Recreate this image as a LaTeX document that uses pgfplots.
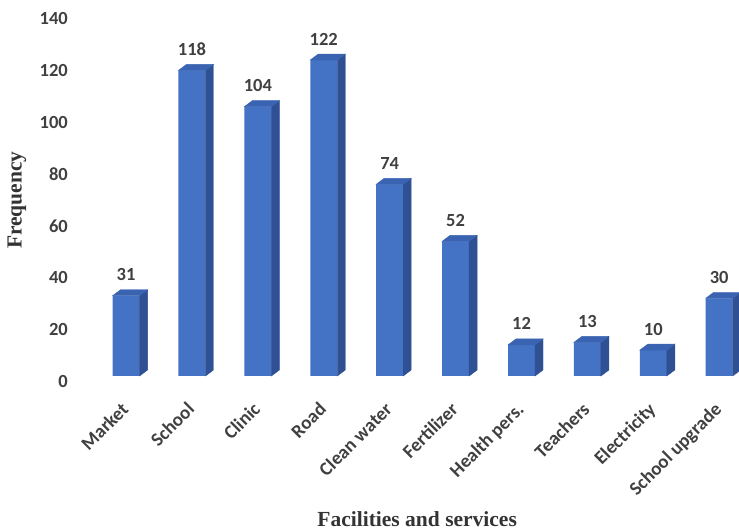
\documentclass[border=0pt]{standalone}
\usepackage{pgfplots}
\pgfplotsset{compat=1.18}
\usepackage{pgfplotstable}
\usepackage{fontspec}
\setmainfont{Carlito}
\newfontfamily\titlefont{Liberation Serif}
\definecolor{barfront}{HTML}{4472C4}
\definecolor{barside}{HTML}{2F5093}
\definecolor{bartop}{HTML}{3A64B2}
\definecolor{txt}{HTML}{404040}
\definecolor{ttl}{HTML}{333333}
\newcommand\numfont{\fontsize{18.5bp}{21bp}\selectfont\bfseries}
\newcommand\lblfont{\fontsize{19bp}{22bp}\selectfont\bfseries}
\newcommand\ttlfont{\titlefont\fontsize{21.5bp}{24bp}\selectfont\bfseries}

\pgfplotstableread{
x v
0 31
1 118
2 104
3 122
4 74
5 52
6 12
7 13
8 10
9 30
}\datatable

\begin{document}
\begin{tikzpicture}
\useasboundingbox (0,0) rectangle (739bp,531bp);
\begin{axis}[
  at={(74bp,155bp)}, anchor=south west,
  scale only axis, width=665bp, height=362.6bp,
  xmin=-0.79, xmax=9.30, ymin=0, ymax=140,
  ytick={0,20,...,140},
  xtick={0,...,9},
  xticklabels={Market,School,Clinic,Road,Clean water,Fertilizer,Health pers.,Teachers,Electricity,School upgrade},
  axis line style={draw=none},
  major tick length=0pt,
  /pgf/number format/assume math mode=true,
  yticklabel style={font=\numfont, text=txt, inner sep=0pt, anchor=east, xshift=-6bp, yshift=-5.5bp},
  xticklabel style={font=\lblfont, text=txt, inner sep=0pt, xshift=-6bp, yshift=-25bp, rotate=45, anchor=north east},
  xlabel={Facilities and services},
  ylabel={Frequency},
  every axis x label/.style={at={(axis description cs:0.516,-0.396)}, anchor=center, font=\ttlfont, text=ttl},
  every axis y label/.style={at={(axis description cs:-0.0857,0.485)}, rotate=90, anchor=center, font=\ttlfont, text=ttl},
  clip=false,
]
\addplot[ybar, bar width=27bp, bar shift=0pt, fill=barfront, draw=none,
  nodes near coords,
  every node near coord/.append style={font=\numfont, text=txt, anchor=base, inner sep=0pt, yshift=15bp}]
  table[x=x,y=v]{\datatable};
\addplot[only marks, mark=*, mark size=0pt, mark options={draw=none,fill=none},
  scatter,
  visualization depends on={\thisrow{v} \as \val},
  scatter/@pre marker code/.code={%
    \fill[barside] (13.5bp,0pt) -- (21.5bp,6bp) -- ([shift={(21.5bp,6bp)}]axis direction cs:0,-\val) -- ([shift={(13.5bp,0pt)}]axis direction cs:0,-\val) -- cycle;
    \fill[bartop] (-13.5bp,0pt) -- (-5.5bp,6bp) -- (21.5bp,6bp) -- (13.5bp,0pt) -- cycle;
  },
  scatter/@post marker code/.code={}]
  table[x=x,y=v]{\datatable};
\end{axis}
\end{tikzpicture}
\end{document}
